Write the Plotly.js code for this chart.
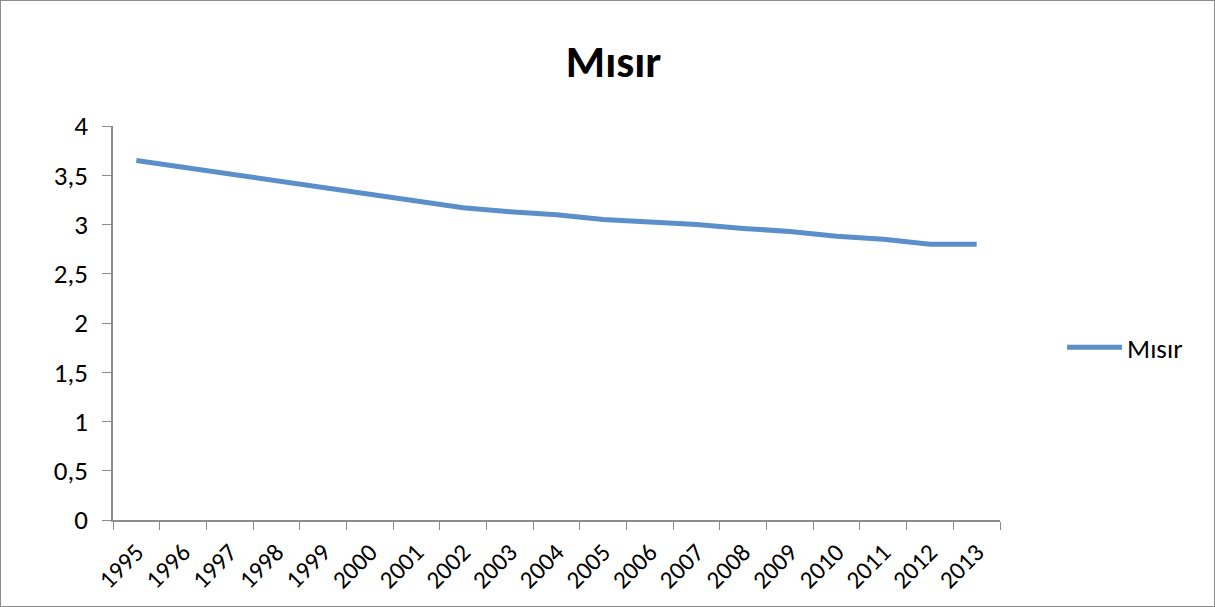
<!DOCTYPE html>
<html>
<head>
<meta charset="utf-8">
<script src="https://cdn.plot.ly/plotly-3.0.1.min.js"></script>
<style>
  html, body { margin: 0; padding: 0; background: #fff; }
  #chart { width: 1215px; height: 607px; box-sizing: border-box; border: 1px solid #8c8c8c; }
</style>
</head>
<body>
<div id="chart"></div>
<script>
// Data
const years = ['1995', '1996', '1997', '1998', '1999', '2000', '2001', '2002', '2003', '2004',
  '2005', '2006', '2007', '2008', '2009', '2010', '2011', '2012', '2013'];
const misirValues = [3.65, 3.58, 3.51, 3.44, 3.38, 3.31, 3.24, 3.17, 3.13, 3.10,
  3.05, 3.03, 3.00, 2.96, 2.93, 2.88, 2.85, 2.80, 2.80];
const seriesName = 'Mısır';

const fontFamily = 'Carlito, Calibri, Lato, "Open Sans", sans-serif';

const trace = {
  x: years,
  y: misirValues,
  name: seriesName,
  type: 'scatter',
  mode: 'lines',
  line: { color: '#5b8fc9', width: 5 },
  showlegend: true
};

const layout = {
  width: 1213,
  height: 605,
  margin: { l: 112, r: 214, t: 125, b: 86 },
  paper_bgcolor: '#fff',
  plot_bgcolor: '#fff',
  separators: ',.',
  font: { family: fontFamily, size: 27, color: '#000' },
  title: {
    text: '<b>Mısır</b>',
    font: { family: fontFamily, size: 45, color: '#000' },
    x: 0.505,
    xanchor: 'center',
    y: 0.9,
    yanchor: 'middle'
  },
  xaxis: {
    type: 'category',
    range: [-0.5, 18.5],
    tickson: 'boundaries',
    ticks: 'outside',
    ticklen: 8,
    tickcolor: '#8c8c8c',
    tickangle: -45,
    ticklabelstandoff: 6,
    showline: true,
    linecolor: '#8c8c8c',
    linewidth: 1.5,
    showgrid: false,
    zeroline: false,
    tickfont: { family: fontFamily, size: 25, color: '#000' }
  },
  yaxis: {
    range: [0, 4],
    dtick: 0.5,
    ticks: 'outside',
    ticklen: 9,
    tickcolor: '#8c8c8c',
    showline: true,
    linecolor: '#8c8c8c',
    linewidth: 1.5,
    showgrid: false,
    zeroline: false,
    ticklabelstandoff: 9,
    tickfont: { family: fontFamily, size: 27, color: '#000' }
  },
  legend: {
    x: 1.07,
    y: 0.437,
    xanchor: 'left',
    yanchor: 'middle',
    font: { family: fontFamily, size: 27, color: '#000' },
    itemwidth: 55
  }
};

Plotly.newPlot('chart', [trace], layout, { displayModeBar: false });
</script>
</body>
</html>
